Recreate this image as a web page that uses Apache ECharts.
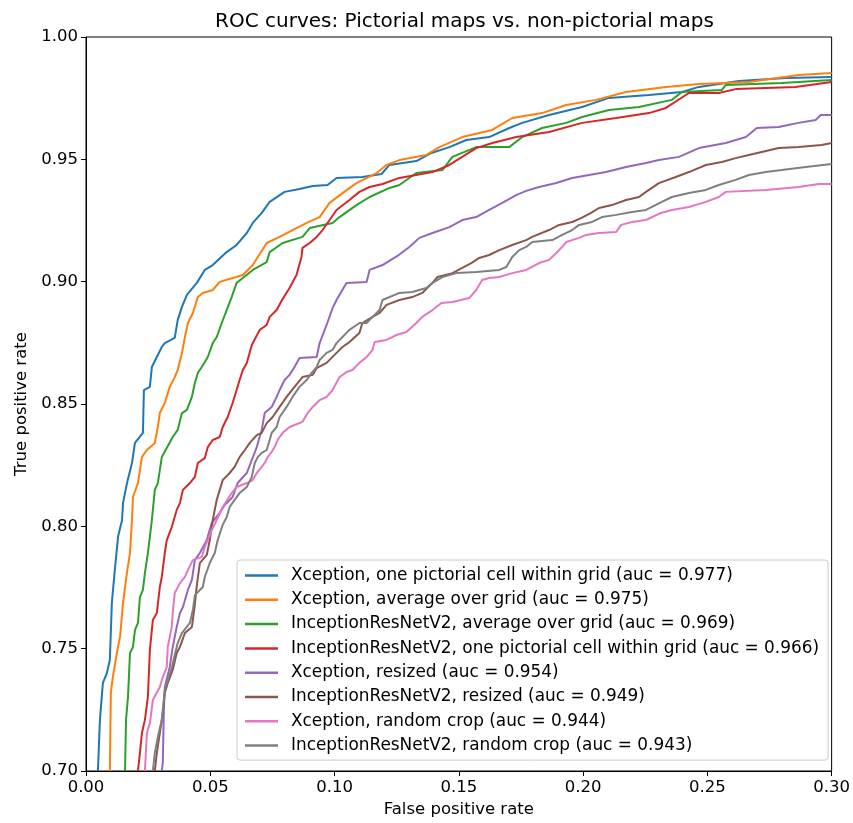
<!DOCTYPE html>
<html><head><meta charset="utf-8">
<script src="https://cdn.jsdelivr.net/npm/echarts@6/dist/echarts.min.js"></script>
<style>html,body{margin:0;padding:0;background:#fff}#c{width:853px;height:823px}</style>
</head><body><div id="c"></div>
<script>
const titleText = 'ROC curves: Pictorial maps vs. non-pictorial maps';
const xLabel = 'False positive rate';
const yLabel = 'True positive rate';
const seriesNames = [
  'Xception, one pictorial cell within grid (auc = 0.977)',
  'Xception, average over grid (auc = 0.975)',
  'InceptionResNetV2, average over grid (auc = 0.969)',
  'InceptionResNetV2, one pictorial cell within grid (auc = 0.966)',
  'Xception, resized (auc = 0.954)',
  'InceptionResNetV2, resized (auc = 0.949)',
  'Xception, random crop (auc = 0.944)',
  'InceptionResNetV2, random crop (auc = 0.943)'
];
const seriesColors = ['#1f77b4','#ff7f0e','#2ca02c','#d62728','#9467bd','#8c564b','#e377c2','#7f7f7f'];

// [false positive rate, true positive rate]
const xceptionOneCell = [
[0.0048,0.70],[0.0056,0.7209],[0.0068,0.736],[0.0084,0.740],[0.0096,0.7454],[0.0104,0.7687],[0.0116,0.7822],[0.0129,0.7957],
[0.0145,0.8026],[0.0149,0.8096],[0.0165,0.8177],[0.0185,0.8259],[0.0197,0.8341],[0.0229,0.8382],[0.0233,0.8557],[0.0257,0.8570],
[0.0265,0.8651],[0.0285,0.8692],[0.0305,0.8733],[0.0317,0.8749],[0.0357,0.8770],[0.0369,0.8843],[0.0386,0.8897],[0.0406,0.8946],
[0.0446,0.8995],[0.0478,0.9048],[0.0510,0.9068],[0.0566,0.9121],[0.0606,0.9150],[0.0647,0.9199],[0.0671,0.9240],[0.0707,0.9281],
[0.0739,0.9326],[0.0799,0.9367],[0.0859,0.9379],[0.0912,0.9391],[0.0972,0.9395],[0.1008,0.9424],[0.1112,0.9428],[0.1189,0.9440],
[0.1221,0.9477],[0.1329,0.9493],[0.1390,0.9526],[0.1462,0.9550],[0.1530,0.9579],[0.1622,0.9591],[0.1703,0.9628],[0.1755,0.9649],
[0.1863,0.9681],[0.1996,0.9714],[0.2104,0.9751],[0.2265,0.9763],[0.2398,0.9775],[0.2466,0.9796],[0.2627,0.9820],[0.2815,0.9832],[0.3,0.9837]
];
const xceptionAverage = [
[0.0096,0.70],[0.0100,0.7319],[0.0108,0.7384],[0.0124,0.7482],[0.0137,0.7548],[0.0149,0.7687],[0.0165,0.7813],[0.0177,0.7891],
[0.0185,0.8026],[0.0189,0.8120],[0.0209,0.8177],[0.0225,0.8283],[0.0245,0.8312],[0.0277,0.8341],[0.0289,0.8406],[0.0297,0.8463],
[0.0317,0.8504],[0.0337,0.8570],[0.0357,0.8610],[0.0369,0.8639],[0.0386,0.8708],[0.0398,0.8774],[0.0410,0.8831],[0.0430,0.8872],
[0.0450,0.8937],[0.0470,0.8954],[0.0510,0.8966],[0.0538,0.8999],[0.0590,0.9015],[0.0631,0.9027],[0.0671,0.9068],[0.0727,0.9158],
[0.0779,0.9183],[0.0831,0.9211],[0.0888,0.9240],[0.0940,0.9264],[0.0980,0.9322],[0.1032,0.9362],[0.1088,0.9403],[0.1169,0.9444],
[0.1209,0.9477],[0.1261,0.9497],[0.1369,0.9518],[0.1422,0.9550],[0.1514,0.9591],[0.1634,0.9620],[0.1715,0.9669],[0.1835,0.9689],
[0.1932,0.9722],[0.2052,0.9743],[0.2173,0.9775],[0.2333,0.9796],[0.2466,0.9808],[0.2667,0.9816],[0.2867,0.9845],[0.3,0.9853]
];
const inceptionAverage = [
[0.0157,0.70],[0.0161,0.7209],[0.0169,0.7303],[0.0177,0.7482],[0.0189,0.7507],[0.0197,0.7576],[0.0209,0.7605],[0.0217,0.7711],
[0.0229,0.7740],[0.0237,0.7809],[0.0249,0.7891],[0.0257,0.7957],[0.0265,0.8026],[0.0277,0.8149],[0.0289,0.8177],[0.0305,0.8283],
[0.0325,0.8320],[0.0349,0.8365],[0.0369,0.8394],[0.0386,0.8463],[0.0406,0.8476],[0.0426,0.8529],[0.0438,0.8586],[0.0450,0.8627],
[0.0466,0.8651],[0.0490,0.8692],[0.0510,0.8749],[0.0526,0.8774],[0.0546,0.8831],[0.0566,0.8884],[0.0586,0.8937],[0.0606,0.8995],
[0.0631,0.9015],[0.0671,0.9048],[0.0727,0.9080],[0.0739,0.9121],[0.0791,0.9158],[0.0871,0.9183],[0.0900,0.9219],[0.0992,0.9240],
[0.1020,0.9264],[0.1088,0.9313],[0.1141,0.9346],[0.1221,0.9383],[0.1261,0.9395],[0.1329,0.9444],[0.1434,0.9456],[0.1474,0.9510],
[0.1570,0.9550],[0.1703,0.9550],[0.1755,0.9591],[0.1835,0.9628],[0.1932,0.9649],[0.1996,0.9673],[0.2104,0.9702],[0.2225,0.9714],
[0.2357,0.9743],[0.2398,0.9775],[0.2558,0.9783],[0.2574,0.9804],[0.2799,0.9812],[0.3,0.9824]
];
const inceptionOneCell = [
[0.0209,0.70],[0.0217,0.7074],[0.0225,0.7155],[0.0237,0.7209],[0.0249,0.7303],[0.0257,0.7495],[0.0269,0.7617],[0.0285,0.7646],
[0.0297,0.7752],[0.0305,0.7793],[0.0317,0.7891],[0.0325,0.7944],[0.0345,0.7997],[0.0365,0.8067],[0.0378,0.8095],[0.0390,0.8149],
[0.0418,0.8177],[0.0438,0.8202],[0.0450,0.8259],[0.0478,0.8279],[0.0490,0.8324],[0.0510,0.8353],[0.0538,0.8365],[0.0550,0.8406],
[0.0570,0.8447],[0.0590,0.8504],[0.0606,0.8557],[0.0618,0.8598],[0.0631,0.8639],[0.0647,0.8668],[0.0667,0.8741],[0.0699,0.8803],
[0.0727,0.8823],[0.0739,0.8856],[0.0767,0.8884],[0.0791,0.8929],[0.0819,0.8974],[0.0847,0.9027],[0.0867,0.9101],[0.0871,0.9138],
[0.0900,0.9158],[0.0928,0.9183],[0.0952,0.9211],[0.0980,0.9252],[0.1008,0.9293],[0.1060,0.9334],[0.1100,0.9367],[0.1141,0.9387],
[0.1193,0.9399],[0.1261,0.9424],[0.1394,0.9448],[0.1462,0.9477],[0.1570,0.9546],[0.1635,0.9567],[0.1731,0.9591],[0.1863,0.9612],
[0.1996,0.9649],[0.2133,0.9669],[0.2265,0.9689],[0.2333,0.9710],[0.2426,0.9771],[0.2546,0.9771],[0.2614,0.9787],[0.2855,0.9796],[0.3,0.9816]
];
const xceptionResized = [
[0.0305,0.70],[0.0309,0.7033],[0.0313,0.7237],[0.0317,0.7343],[0.0337,0.7425],[0.0349,0.7507],[0.0365,0.7589],[0.0378,0.7646],
[0.0390,0.7670],[0.0410,0.7740],[0.0426,0.7781],[0.0438,0.7862],[0.0458,0.7891],[0.0486,0.7944],[0.0506,0.8014],[0.0538,0.8055],
[0.0558,0.8087],[0.0590,0.8120],[0.0610,0.8177],[0.0647,0.8218],[0.0667,0.8271],[0.0687,0.8324],[0.0707,0.8394],[0.0719,0.8463],
[0.0747,0.8488],[0.0767,0.8529],[0.0779,0.8557],[0.0799,0.8598],[0.0819,0.8619],[0.0839,0.8651],[0.0859,0.8688],[0.0928,0.8692],
[0.0940,0.8749],[0.0968,0.8823],[0.0992,0.8892],[0.1008,0.8925],[0.1048,0.8995],[0.1129,0.8999],[0.1141,0.9048],[0.1193,0.9068],
[0.1253,0.9105],[0.1301,0.9142],[0.1341,0.9179],[0.1394,0.9199],[0.1462,0.9223],[0.1514,0.9252],[0.1570,0.9264],[0.1622,0.9293],
[0.1675,0.9322],[0.1731,0.9354],[0.1771,0.9371],[0.1823,0.9387],[0.1892,0.9403],[0.1956,0.9424],[0.2024,0.9436],[0.2092,0.9448],
[0.2173,0.9469],[0.2253,0.9485],[0.2305,0.9497],[0.2386,0.9510],[0.2466,0.9546],[0.2574,0.9567],[0.2655,0.9591],[0.2699,0.9628],
[0.2787,0.9632],[0.2867,0.9649],[0.2936,0.9661],[0.2956,0.9681],[0.3,0.9681]
];
const inceptionResized = [
[0.0277,0.70],[0.0285,0.7074],[0.0297,0.7155],[0.0309,0.7237],[0.0317,0.7319],[0.0329,0.7360],[0.0349,0.7413],[0.0365,0.7482],
[0.0378,0.7507],[0.0398,0.7564],[0.0426,0.7589],[0.0438,0.7679],[0.0446,0.7760],[0.0458,0.7850],[0.0486,0.7883],[0.0498,0.7944],
[0.0510,0.8026],[0.0526,0.8108],[0.0550,0.8189],[0.0578,0.8218],[0.0598,0.8243],[0.0618,0.8283],[0.0639,0.8312],[0.0659,0.8341],
[0.0687,0.8373],[0.0707,0.8382],[0.0727,0.8422],[0.0751,0.8447],[0.0779,0.8488],[0.0807,0.8529],[0.0839,0.8570],[0.0871,0.8610],
[0.0912,0.8619],[0.0928,0.8647],[0.0968,0.8668],[0.1008,0.8709],[0.1032,0.8733],[0.1060,0.8753],[0.1100,0.8790],[0.1112,0.8831],
[0.1153,0.8856],[0.1181,0.8872],[0.1209,0.8905],[0.1261,0.8925],[0.1313,0.8937],[0.1353,0.8954],[0.1394,0.8995],[0.1414,0.9019],
[0.1474,0.9035],[0.1514,0.9056],[0.1550,0.9076],[0.1582,0.9097],[0.1622,0.9109],[0.1663,0.9129],[0.1715,0.9150],[0.1771,0.9170],
[0.1795,0.9183],[0.1863,0.9211],[0.1904,0.9232],[0.1956,0.9244],[0.1992,0.9260],[0.2032,0.9281],[0.2064,0.9301],[0.2116,0.9313],
[0.2173,0.9334],[0.2225,0.9346],[0.2253,0.9367],[0.2305,0.9403],[0.2373,0.9428],[0.2426,0.9448],[0.2494,0.9477],[0.2558,0.9489],
[0.2614,0.9505],[0.2667,0.9518],[0.2787,0.9546],[0.2867,0.9550],[0.2960,0.9559],[0.3,0.9567]
];
const xceptionRandomCrop = [
[0.0237,0.70],[0.0245,0.7155],[0.0257,0.7196],[0.0269,0.7290],[0.0297,0.7343],[0.0309,0.7384],[0.0325,0.7425],[0.0329,0.7507],
[0.0345,0.7589],[0.0349,0.7646],[0.0357,0.7728],[0.0378,0.7768],[0.0398,0.7793],[0.0410,0.7822],[0.0430,0.7862],[0.0466,0.7875],
[0.0478,0.7916],[0.0490,0.7944],[0.0506,0.7985],[0.0526,0.8026],[0.0550,0.8079],[0.0586,0.8136],[0.0606,0.8161],[0.0647,0.8177],
[0.0671,0.8189],[0.0687,0.8218],[0.0707,0.8243],[0.0719,0.8259],[0.0731,0.8283],[0.0747,0.8304],[0.0759,0.8324],[0.0771,0.8353],
[0.0791,0.8382],[0.0819,0.8406],[0.0839,0.8414],[0.0871,0.8427],[0.0892,0.8463],[0.0912,0.8488],[0.0940,0.8516],[0.0968,0.8529],
[0.0992,0.8557],[0.1020,0.8610],[0.1048,0.8631],[0.1072,0.8639],[0.1100,0.8668],[0.1129,0.8692],[0.1153,0.8721],[0.1161,0.8753],
[0.1209,0.8762],[0.1249,0.8782],[0.1289,0.8794],[0.1329,0.8831],[0.1353,0.8856],[0.1394,0.8884],[0.1430,0.8913],[0.1474,0.8917],
[0.1542,0.8933],[0.1570,0.8966],[0.1594,0.9007],[0.1622,0.9015],[0.1663,0.9019],[0.1715,0.9035],[0.1771,0.9048],[0.1823,0.9076],
[0.1863,0.9089],[0.1892,0.9117],[0.1916,0.9142],[0.1932,0.9162],[0.1984,0.9179],[0.2012,0.9191],[0.2064,0.9199],[0.2133,0.9203],
[0.2153,0.9232],[0.2197,0.9244],[0.2253,0.9252],[0.2313,0.9281],[0.2357,0.9293],[0.2426,0.9305],[0.2494,0.9326],[0.2546,0.9346],
[0.2574,0.9367],[0.2735,0.9375],[0.2867,0.9387],[0.2948,0.9399],[0.3,0.9399]
];
const inceptionRandomCrop = [
[0.0269,0.70],[0.0277,0.7074],[0.0289,0.7139],[0.0305,0.7209],[0.0317,0.7331],[0.0329,0.7372],[0.0345,0.7421],[0.0357,0.7474],
[0.0369,0.7523],[0.0386,0.7564],[0.0418,0.7605],[0.0430,0.7658],[0.0438,0.7719],[0.0470,0.7752],[0.0478,0.7793],[0.0498,0.7850],
[0.0518,0.7891],[0.0530,0.7944],[0.0550,0.8006],[0.0566,0.8038],[0.0578,0.8079],[0.0598,0.8108],[0.0618,0.8136],[0.0647,0.8161],
[0.0667,0.8202],[0.0679,0.8259],[0.0691,0.8283],[0.0707,0.8300],[0.0727,0.8312],[0.0739,0.8353],[0.0747,0.8382],[0.0767,0.8406],
[0.0779,0.8447],[0.0807,0.8488],[0.0831,0.8529],[0.0859,0.8570],[0.0888,0.8598],[0.0908,0.8627],[0.0928,0.8651],[0.0940,0.8680],
[0.0968,0.8709],[0.0992,0.8721],[0.1008,0.8749],[0.1032,0.8774],[0.1060,0.8803],[0.1100,0.8831],[0.1129,0.8831],[0.1153,0.8856],
[0.1181,0.8884],[0.1193,0.8925],[0.1261,0.8954],[0.1313,0.8958],[0.1369,0.8974],[0.1394,0.8995],[0.1434,0.9019],[0.1490,0.9035],
[0.1570,0.9040],[0.1663,0.9048],[0.1691,0.9060],[0.1715,0.9101],[0.1743,0.9129],[0.1771,0.9142],[0.1795,0.9162],[0.1876,0.9170],
[0.1916,0.9191],[0.1956,0.9211],[0.1984,0.9232],[0.2036,0.9244],[0.2076,0.9264],[0.2133,0.9273],[0.2197,0.9285],[0.2253,0.9293],
[0.2317,0.9326],[0.2357,0.9346],[0.2426,0.9362],[0.2494,0.9375],[0.2546,0.9395],[0.2614,0.9416],[0.2667,0.9436],[0.2735,0.9448],
[0.2799,0.9456],[0.2896,0.9469],[0.3,0.9481]
];
const seriesData = [xceptionOneCell, xceptionAverage, inceptionAverage, inceptionOneCell,
  xceptionResized, inceptionResized, xceptionRandomCrop, inceptionRandomCrop];

const FONT = 'DejaVu Sans';
const chart = echarts.init(document.getElementById('c'), null, {renderer: 'canvas'});
chart.setOption({
  animation: false,
  backgroundColor: '#fff',
  title: {
    text: titleText, left: 459.5, top: 7, textAlign: 'center',
    textStyle: {fontFamily: FONT, fontSize: 20, fontWeight: 'normal', color: '#000'}
  },
  grid: {left: 86, right: 20, top: 37, bottom: 52, show: true, borderColor: '#000', borderWidth: 1, backgroundColor: 'transparent'},
  legend: {
    orient: 'vertical', left: 237, top: 560,
    data: seriesNames.map((n, i) => ({name: n, icon: 'rect', itemStyle: {color: seriesColors[i]}})),
    itemWidth: 33, itemHeight: 2.5, itemGap: 7.3,
    padding: [7, 9, 6, 8],
    backgroundColor: 'rgba(255,255,255,0.85)', borderColor: '#cccccc', borderWidth: 1, borderRadius: 3,
    textStyle: {fontFamily: FONT, fontSize: 16.9, color: '#000', padding: [0, 0, 0, 8]}
  },
  xAxis: {
    type: 'value', min: 0, max: 0.3, interval: 0.05,
    name: xLabel, nameLocation: 'middle', nameGap: 30,
    nameTextStyle: {fontFamily: FONT, fontSize: 16.5, color: '#000'},
    axisLine: {show: true, onZero: false, lineStyle: {color: '#000', width: 1}},
    axisTick: {show: true, length: 5, lineStyle: {color: '#000'}},
    axisLabel: {fontFamily: FONT, fontSize: 16.5, color: '#000', margin: 8, formatter: v => v.toFixed(2)},
    splitLine: {show: false}
  },
  yAxis: {
    type: 'value', min: 0.7, max: 1.0, interval: 0.05,
    name: yLabel, nameLocation: 'middle', nameGap: 55,
    nameTextStyle: {fontFamily: FONT, fontSize: 16.5, color: '#000'},
    axisLine: {show: true, onZero: false, lineStyle: {color: '#000', width: 1}},
    axisTick: {show: true, length: 5, lineStyle: {color: '#000'}},
    axisLabel: {fontFamily: FONT, fontSize: 16.5, color: '#000', margin: 8, formatter: v => v.toFixed(2)},
    splitLine: {show: false}
  },
  series: seriesNames.map((n, i) => ({
    name: n, type: 'line', data: seriesData[i],
    symbol: 'none', showSymbol: false,
    lineStyle: {color: seriesColors[i], width: 2},
    itemStyle: {color: seriesColors[i]},
    clip: true
  }))
});
</script></body></html>
